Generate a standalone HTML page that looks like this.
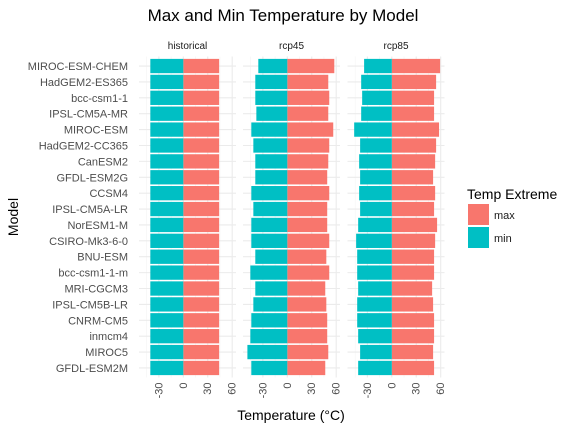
<!DOCTYPE html>
<html><head><meta charset="utf-8"><style>
body{margin:0;background:#fff;}
svg text{font-family:"Liberation Sans",sans-serif;}
</style></head><body>
<svg id="chart" width="576" height="432" viewBox="0 0 576 432" xmlns="http://www.w3.org/2000/svg">
<text x="283" y="21" font-size="17" text-anchor="middle" fill="#000">Max and Min Temperature by Model</text>
<text transform="translate(18,217) rotate(-90)" font-size="14" text-anchor="middle" fill="#000">Model</text>
<text x="291" y="420" font-size="14" text-anchor="middle" fill="#000">Temperature (°C)</text>
<g>
<text x="467" y="199" font-size="14" fill="#000">Temp Extreme</text>
<rect x="468" y="204" width="21" height="21" fill="#F8766D"/>
<text x="494" y="219" font-size="11" fill="#1a1a1a">max</text>
<rect x="468" y="227" width="21" height="21" fill="#00BFC4"/>
<text x="494" y="242" font-size="11" fill="#1a1a1a">min</text>
</g>
<g id="plot"></g>
</svg>
<script>
const models=["MIROC-ESM-CHEM","HadGEM2-ES365","bcc-csm1-1","IPSL-CM5A-MR","MIROC-ESM","HadGEM2-CC365","CanESM2","GFDL-ESM2G","CCSM4","IPSL-CM5A-LR","NorESM1-M","CSIRO-Mk3-6-0","BNU-ESM","bcc-csm1-1-m","MRI-CGCM3","IPSL-CM5B-LR","CNRM-CM5","inmcm4","MIROC5","GFDL-ESM2M"];
const panels=["historical","rcp45","rcp85"];
const histMax=[44,44,44,44,44,44,44,44,44,44,44,44,44,44,44,44,44,44,44,44];
const histMin=[-40.5,-40.5,-40.5,-40.5,-40.5,-40.5,-40.5,-40.5,-40.5,-40.5,-40.5,-40.5,-40.5,-40.5,-40.5,-40.5,-40.5,-40.5,-40.5,-40.5];
const rcp45Max=[57.7,50.3,51.5,50.3,56.4,51.5,50.3,49,51.5,49,49,51.5,47.9,51.5,46.6,47.9,49,49,50.3,46.6];
const rcp45Min=[-35.6,-39.3,-39.3,-38,-44.2,-41.7,-39.3,-39.3,-44.2,-41.7,-44.2,-44.2,-39.3,-45.4,-39.3,-41.7,-44.2,-45.4,-49,-44.2];
const rcp85Max=[59.3,54.4,51.9,51.9,58,54.4,53.2,50.7,53.2,51.9,55.6,53.2,51.9,51.9,49.5,50.7,51.9,51.9,50.7,51.9];
const rcp85Min=[-34,-37.6,-36.4,-37.6,-46.2,-38.9,-40.1,-38.9,-40.1,-38.9,-41.3,-43.8,-42.5,-42.5,-41.3,-42.5,-42.5,-41.3,-38.9,-41.3];
const xTicks=[-30,0,30,60];
const xMinor=[-45,-15,15,45];

const seriesMax=[histMax,rcp45Max,rcp85Max];
const seriesMin=[histMin,rcp45Min,rcp85Min];
const NS="http://www.w3.org/2000/svg";
const plotG=document.getElementById('plot');
const dMin=-54.4,dMax=64.7;
const panelLeft=[139,243,347.5],pw=97;
const plotTop=56.5,plotBottom=377.5;
const nModels=models.length;
const step=(plotBottom-plotTop)/(nModels+0.2);
function yPos(i){return plotTop+(0.6+i)*step;}
function xScale(p,v){return panelLeft[p]+(v-dMin)/(dMax-dMin)*pw;}
function mk(tag,attrs){const e=document.createElementNS(NS,tag);for(const k in attrs)e.setAttribute(k,attrs[k]);plotG.appendChild(e);return e;}

models.forEach((m,i)=>{
  const t=mk('text',{x:128,y:yPos(i)+4,'font-size':11,'text-anchor':'end',fill:'#4d4d4d'});
  t.textContent=m;
  
  
});

panels.forEach((p,pi)=>{
  const s=mk('text',{x:panelLeft[pi]+pw/2,y:49,'font-size':10,'text-anchor':'middle',fill:'#1a1a1a'});
  s.textContent=p;
  
  
  xMinor.forEach(v=>{
    const l=mk('line',{x1:xScale(pi,v),x2:xScale(pi,v),y1:plotTop,y2:plotBottom,stroke:'#f3f3f3','stroke-width':0.6});
    
    
  });
  models.forEach((m,i)=>{
    const l=mk('line',{x1:panelLeft[pi],x2:panelLeft[pi]+pw,y1:yPos(i),y2:yPos(i),stroke:'#ebebeb','stroke-width':1.1});
    
    
  });
  xTicks.forEach(v=>{
    const l=mk('line',{x1:xScale(pi,v),x2:xScale(pi,v),y1:plotTop,y2:plotBottom,stroke:'#ebebeb','stroke-width':1.1});
    
    
    const x=xScale(pi,v);
    const t=mk('text',{transform:`translate(${x+3.5},${plotBottom+5}) rotate(-90)`,'font-size':11,'text-anchor':'end',fill:'#4d4d4d'});
    t.textContent=v;
    
    
  });
  const bh=step*0.9;
  models.forEach((m,i)=>{
    const x0=xScale(pi,0);
    const xm=xScale(pi,seriesMax[pi][i]);
    const r=mk('rect',{x:x0,y:yPos(i)-bh/2,width:xm-x0,height:bh,fill:'#F8766D'});
    
    
    const xn=xScale(pi,seriesMin[pi][i]);
    const r2=mk('rect',{x:xn,y:yPos(i)-bh/2,width:x0-xn,height:bh,fill:'#00BFC4'});
    
    
  });
});
</script>
</body></html>
